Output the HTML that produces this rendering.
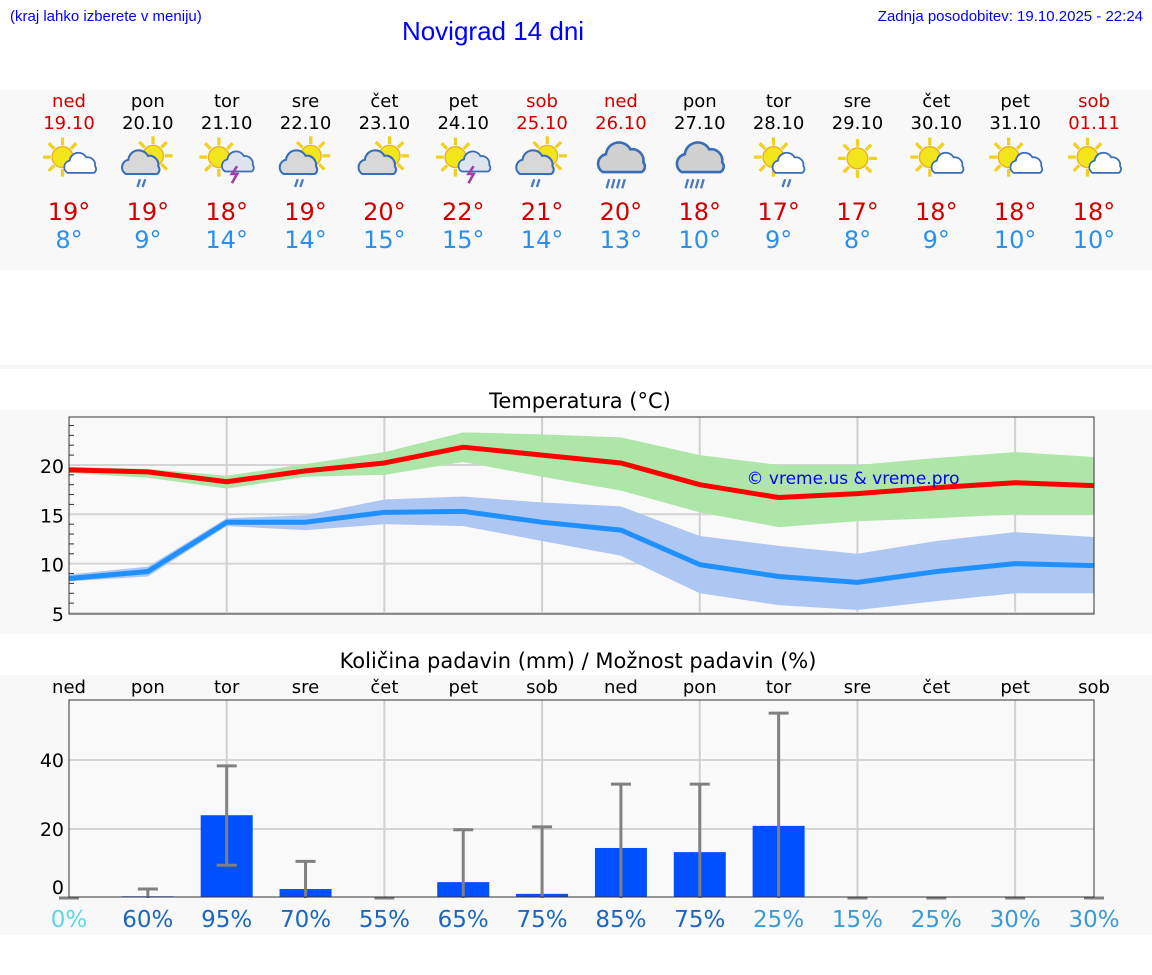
<!DOCTYPE html>
<html><head><meta charset="utf-8">
<style>
body{margin:0;background:#fff;font-family:"DejaVu Sans","Liberation Sans",sans-serif;}
svg{display:block}
</style></head><body>
<svg id="s" width="1152" height="975" xmlns="http://www.w3.org/2000/svg">
<rect x="0" y="90" width="1152" height="180" fill="#f8f8f8"/>
<rect x="0" y="365" width="1152" height="4" fill="#f5f5f5"/>
<rect x="0" y="410" width="1152" height="224" fill="#f8f8f8"/>
<rect x="0" y="675" width="1152" height="260" fill="#f8f8f8"/>
<text x="10" y="21" font-size="15" fill="#0000ff" font-family="Liberation Sans,sans-serif">(kraj lahko izberete v meniju)</text>
<text x="493" y="40" font-size="26" fill="#0000ff" text-anchor="middle" font-family="Liberation Sans,sans-serif">Novigrad 14 dni</text>
<text x="1143" y="21" font-size="15" fill="#0000ff" text-anchor="end" font-family="Liberation Sans,sans-serif">Zadnja posodobitev: 19.10.2025 - 22:24</text>
<text x="580" y="408" font-size="21" text-anchor="middle">Temperatura (°C)</text>
<text x="578" y="668" font-size="21" text-anchor="middle">Količina padavin (mm) / Možnost padavin (%)</text>
<g id="hdr"></g>
<g id="temp"></g>
<g id="prec"></g>
</svg>
<script>
const days=["ned","pon","tor","sre","čet","pet","sob","ned","pon","tor","sre","čet","pet","sob"];
const dates=["19.10","20.10","21.10","22.10","23.10","24.10","25.10","26.10","27.10","28.10","29.10","30.10","31.10","01.11"];
const icons=[0,1,2,1,3,2,1,4,4,5,6,0,0,0];
const tMax=[19.5,19.3,18.3,19.4,20.2,21.8,21.0,20.2,18.0,16.7,17.1,17.7,18.2,17.9];
const tMaxHi=[19.8,19.6,18.9,20.1,21.3,23.3,23.1,22.8,21.0,20.0,20.0,20.7,21.3,20.8];
const tMaxLo=[19.2,18.7,17.6,18.8,19.0,20.3,18.8,17.4,15.2,13.7,14.3,14.6,15.0,15.0];
const tMin=[8.5,9.2,14.2,14.2,15.2,15.3,14.2,13.4,9.9,8.7,8.1,9.2,10.0,9.8];
const tMinHi=[8.9,9.7,14.6,14.9,16.5,16.8,16.2,15.8,12.8,11.8,11.0,12.3,13.2,12.7];
const tMinLo=[8.2,8.7,13.8,13.4,14.0,13.8,12.3,10.8,7.0,5.8,5.3,6.2,7.0,7.0];
const hiLabels=[19,19,18,19,20,22,21,20,18,17,17,18,18,18];
const loLabels=[8,9,14,14,15,15,14,13,10,9,8,9,10,10];
const rain=[0,0.5,24,2.6,0,4.6,1.2,14.5,13.3,20.9,0,0,0,0];
const rainLo=[0,0,9.5,0,0,0,0,0,0,0,0,0,0,0];
const rainHi=[0,2.6,38.3,10.6,0,19.8,20.6,33,33,53.6,0,0,0,0];
const chance=[0,60,95,70,55,65,75,85,75,25,15,25,30,30];
const tTicks=[5,10,15,20];
const pTicks=[0,20,40];

const NS="http://www.w3.org/2000/svg";
function mk(p,t,a,txt){const e=document.createElementNS(NS,t);for(const k in a)e.setAttribute(k,a[k]);if(txt!==undefined)e.textContent=txt;p.appendChild(e);return e;}
const X0=69,X1=1094;
const x=i=>X0+i*(X1-X0)/13;
const yT=v=>613-9.87*(v-5);
const yP=v=>898-3.45*v;
const red="#d00000";

// header
const hdr=document.getElementById('hdr');
days.forEach((d,i)=>{
  const c=(d==="ned"||d==="sob")?red:"#000";
  let t=mk(hdr,'text',{x:x(i),y:107,'font-size':18,'text-anchor':'middle',fill:c},d);
  
  
  t=mk(hdr,'text',{x:x(i),y:129,'font-size':18,'text-anchor':'middle',fill:c},dates[i]);
  
  
  t=mk(hdr,'text',{x:x(i),y:220,'font-size':24,'text-anchor':'middle',fill:red},hiLabels[i]+"°");
  
  
  t=mk(hdr,'text',{x:x(i),y:248,'font-size':24,'text-anchor':'middle',fill:"#2a90f0"},loLabels[i]+"°");
  
  
  const g=mk(hdr,'g',{transform:`translate(${x(i)},161) scale(1.3)`});
  
  
  const ty=icons[i];
  const sun=(cx,cy)=>{for(let k=0;k<8;k++){const a=k*Math.PI/4;mk(g,'line',{x1:cx+Math.cos(a)*9,y1:cy+Math.sin(a)*9,x2:cx+Math.cos(a)*15,y2:cy+Math.sin(a)*15,stroke:"#f0d020",'stroke-width':2.5});}mk(g,'circle',{cx:cx,cy:cy,r:8,fill:"#f2e51c",stroke:"#e8b020"});};
  const cloud=(cx,cy,s,fill)=>{mk(g,'path',{transform:`translate(${cx},${cy}) scale(${s})`,d:`M-12,6 a6,6 0 0 1 2,-11 a8,8 0 0 1 15,-3 a7,7 0 0 1 8,8 a4,4 0 0 1 -1,6 z`,fill:fill,stroke:"#3a6db8",'stroke-width':1.6});};
  if(ty===0){sun(-5,-3);cloud(9,4,0.85,"#fff");}
  else if(ty===1){sun(4,-4);cloud(-5,4,1,"#d8d8d8");mk(g,'path',{d:"M-6,14 l-2,6 M-2,14 l-2,6",stroke:"#4a7ac0",'stroke-width':1.8});}
  else if(ty===2){sun(-6,-3);cloud(9,3,0.85,"#dde4ee");mk(g,'path',{d:"M8,4 l-4,6 h4 l-4,7",stroke:"#a040a0",'stroke-width':2,fill:"none"});}
  else if(ty===3){sun(4,-4);cloud(-5,4,1,"#d8d8d8");}
  else if(ty===4){cloud(1,1,1.25,"#d0d0d0");mk(g,'path',{d:"M-9,14 l-2,7 M-5,14 l-2,7 M-1,14 l-2,7 M3,14 l-2,7",stroke:"#4a7ac0",'stroke-width':1.8});}
  else if(ty===5){sun(-4,-3);cloud(8,4,0.85,"#fff");mk(g,'path',{d:"M5,14 l-2,6 M9,14 l-2,6",stroke:"#4a7ac0",'stroke-width':1.8});}
  else {sun(0,-2);}
});

// temperature chart
const tg=document.getElementById('temp');
let r=mk(tg,'rect',{x:X0,y:417,width:X1-X0,height:197,fill:"#f9f9f9"});


tTicks.forEach(v=>{
  let l=mk(tg,'line',{x1:X0,x2:X1,y1:yT(v),y2:yT(v),stroke:"#d4d4d4",'stroke-width':2});
  
  
  let t=mk(tg,'text',{x:64,y:yT(v)+8,'font-size':19,'text-anchor':'end'},v);
  
  
});
for(let v=6;v<=24;v++){if(v%5)mk(tg,'line',{x1:X0,x2:X0+5,y1:yT(v),y2:yT(v),stroke:"#333"});}
for(let i=2;i<13;i+=2){let l=mk(tg,'line',{x1:x(i),x2:x(i),y1:417,y2:614,stroke:"#d0d0d0",'stroke-width':2});}
function band(hi,lo,fill,name){
  let d=hi.map((v,i)=>(i?"L":"M")+x(i)+","+yT(v)).join("")+lo.map((v,i)=>[i,v]).reverse().map(([i,v])=>"L"+x(i)+","+yT(v)).join("")+"Z";
  const p=mk(tg,'path',{d:d,fill:fill});
  
  
}
function line(vs,col,name){
  const p=mk(tg,'polyline',{points:vs.map((v,i)=>x(i)+","+yT(v)).join(" "),fill:"none",stroke:col,'stroke-width':5,'stroke-linejoin':'round'});
  
  
}
band(tMaxHi,tMaxLo,"#aee6aa","max-temp-range");
band(tMinHi,tMinLo,"#aec6f2","min-temp-range");
line(tMax,"#ff0000","max-temp-line");
line(tMin,"#1e90ff","min-temp-line");
r=mk(tg,'rect',{x:X0,y:417,width:X1-X0,height:197,fill:"none",stroke:"#333"});


let wm=mk(tg,'text',{x:853,y:484,'font-size':17,'text-anchor':'middle',fill:"#0000ff"},"© vreme.us & vreme.pro");



// precipitation chart
const pg=document.getElementById('prec');
r=mk(pg,'rect',{x:X0,y:700,width:X1-X0,height:197,fill:"#f9f9f9"});


pTicks.forEach(v=>{
  if(v>0){let l=mk(pg,'line',{x1:X0,x2:X1,y1:yP(v),y2:yP(v),stroke:"#d4d4d4",'stroke-width':2});}
  let t=mk(pg,'text',{x:64,y:yP(v)+(v?7:-4),'font-size':19,'text-anchor':'end'},v);
  
  
});
for(let i=2;i<13;i+=2){let l=mk(pg,'line',{x1:x(i),x2:x(i),y1:700,y2:897,stroke:"#d0d0d0",'stroke-width':2});}
days.forEach((d,i)=>{
  let t=mk(pg,'text',{x:x(i),y:693,'font-size':18,'text-anchor':'middle'},d);
  
  
  if(rain[i]>0){
    const b=mk(pg,'rect',{x:x(i)-26,y:yP(rain[i]),width:52,height:897-yP(rain[i]),fill:"#0050ff"});
    
    
  }
  const e=mk(pg,'path',{d:`M${x(i)},${yP(rainLo[i])} V${yP(rainHi[i])} M${x(i)-10},${yP(rainHi[i])} h20`+(rainLo[i]>0?` M${x(i)-10},${yP(rainLo[i])} h20`:""),stroke:"#808080",'stroke-width':3,fill:"none"});
  
  
  const c=chance[i]===0?"#5ad8e8":(chance[i]>=55?"#1a66c0":"#3a9ad8");
  t=mk(pg,'text',{x:x(i),y:927,'font-size':23,'text-anchor':'middle',fill:c},chance[i]+"%");
  
  
});
r=mk(pg,'rect',{x:X0,y:700,width:X1-X0,height:197,fill:"none",stroke:"#333"});


</script>
</body></html>
